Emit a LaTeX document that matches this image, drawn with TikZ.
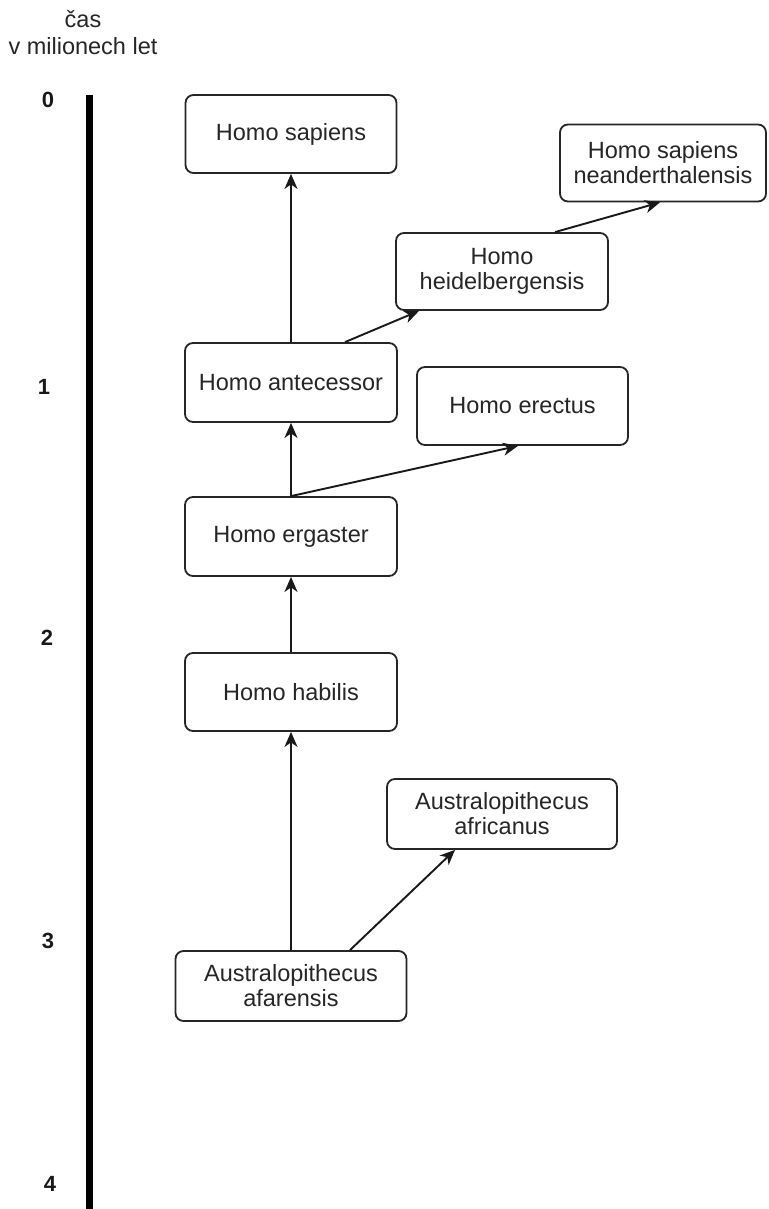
\documentclass[tikz,border=0pt]{standalone}
\usepackage{fontspec}
\setmainfont{Liberation Sans}
\usetikzlibrary{arrows.meta}
\begin{document}
\begin{tikzpicture}[x=1pt,y=-1pt,
  species/.style={draw=black!85, line width=1.8pt, rounded corners=8pt, fill=white,
    align=center, inner sep=0pt, text=black!85,
    font=\fontsize{23.5}{25}\selectfont},
  link/.style={draw=black!90, line width=1.9pt,
    -{Stealth[length=15pt,width=13pt,inset=4.5pt]}},
  tick/.style={font=\bfseries\fontsize{22}{24}\selectfont, text=black!90},
  caption/.style={font=\fontsize{23.5}{25}\selectfont, text=black!85, anchor=base}
]
\useasboundingbox (0,0) rectangle (768,1209);

% time axis
\coordinate (axtop) at (89,95);
\coordinate (axbot) at (89,1209);
\draw[line width=7pt] (axtop) -- (axbot);

\node[caption] (cap1) at (83,28) {čas};
\node[caption] (cap2) at (83,55) {v milionech let};

\node[tick] (t0) at (48,100) {0};
\node[tick] (t1) at (44,387) {1};
\node[tick] (t2) at (47,638) {2};
\node[tick] (t3) at (48,941) {3};
\node[tick] (t4) at (50,1184) {4};

% species
\node[species, minimum width=211pt, minimum height=78pt] (sap) at (291,134) {Homo sapiens};
\node[species, minimum width=206pt, minimum height=77pt] (nea) at (663,163) {Homo sapiens\\neanderthalensis};
\node[species, minimum width=212pt, minimum height=77pt] (hei) at (502,271.5) {Homo\\heidelbergensis};
\node[species, minimum width=212pt, minimum height=79pt] (ant) at (291,382.5) {Homo antecessor};
\node[species, minimum width=211pt, minimum height=78pt] (ere) at (522.5,406) {Homo erectus};
\node[species, minimum width=212pt, minimum height=79pt] (erg) at (291,536.5) {Homo ergaster};
\node[species, minimum width=212pt, minimum height=78pt] (hab) at (291,692) {Homo habilis};
\node[species, minimum width=230pt, minimum height=70pt] (afr) at (502,814) {Australopithecus\\africanus};
\node[species, minimum width=231pt, minimum height=70pt] (afa) at (291,986) {Australopithecus\\afarensis};

% descent
\draw[link] (afa.north) -- (afa.north |- hab.south);
\draw[link] ([xshift=59pt]afa.north) -- ([xshift=-47pt]afr.south);
\draw[link] (hab.north) -- (hab.north |- erg.south);
\draw[link] (erg.north) -- (erg.north |- ant.south);
\draw[link] (erg.north) -- ([xshift=-4.5pt]ere.south);
\draw[link] (ant.north) -- (ant.north |- sap.south);
\draw[link] ([xshift=54pt]ant.north) -- ([xshift=-83pt]hei.south);
\draw[link] ([xshift=53pt]hei.north) -- ([xshift=-3pt]nea.south);
\end{tikzpicture}
\end{document}
